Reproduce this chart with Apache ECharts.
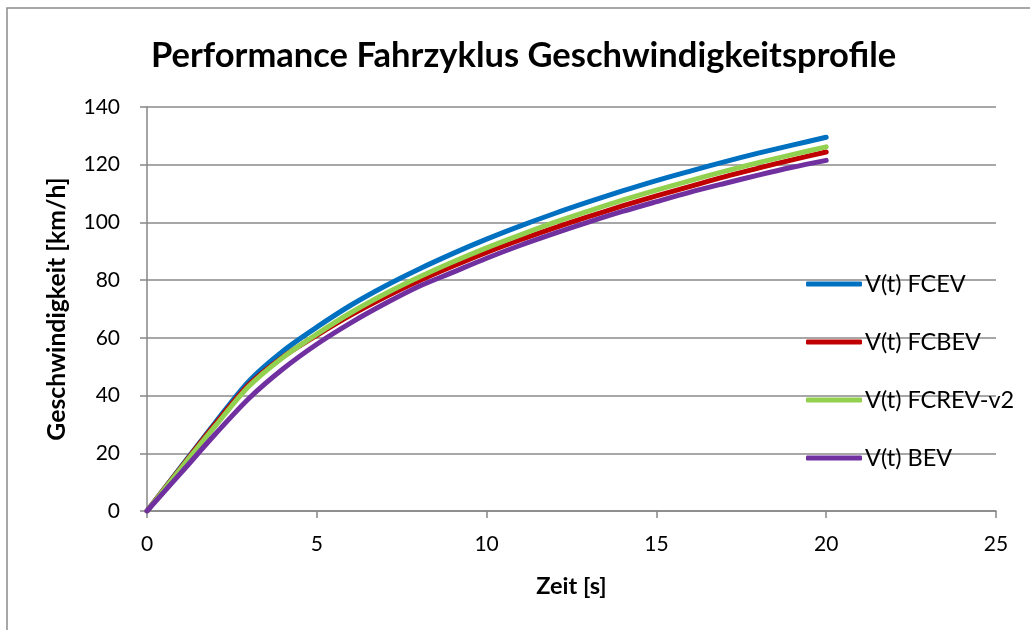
<!DOCTYPE html>
<html>
<head>
<meta charset="utf-8">
<script src="https://cdn.jsdelivr.net/npm/echarts@6/dist/echarts.min.js"></script>
<style>html,body{margin:0;padding:0;background:#fff;}#c{width:1030px;height:630px;}</style>
</head>
<body>
<div id="c"></div>
<script>
var titleText = 'Performance Fahrzyklus Geschwindigkeitsprofile';
var xName = 'Zeit [s]';
var yName = 'Geschwindigkeit [km/h]';
var seriesNames = ['V(t) FCEV', 'V(t) FCBEV', 'V(t) FCREV-v2', 'V(t) BEV'];
var time = [0,1,2,3,4,5,6,7,8,9,10,11,12,13,14,15,16,17,18,19,20];
var fcev = [0,15.3,30.5,45.0,55.4,63.7,71.3,77.9,83.8,89.2,94.2,98.8,103.1,107.1,110.9,114.5,117.8,121.0,124.0,126.8,129.5];
var fcbev = [0,15.1,30.0,43.8,53.4,60.9,67.9,74.1,79.7,84.8,89.6,94.0,98.1,102.0,105.7,109.2,112.5,115.8,118.8,121.7,124.4];
var fcrev = [0,14.8,29.3,43.2,53.2,61.3,68.7,75.2,81.0,86.3,91.2,95.7,100.0,103.9,107.7,111.2,114.5,117.7,120.7,123.5,126.2];
var bev = [0,13.2,26.5,39.0,49.2,57.8,65.2,71.8,77.8,82.7,87.6,92.1,96.2,100.1,103.8,107.2,110.5,113.5,116.4,119.1,121.5];
var colors = ['#0070C0', '#C00000', '#92D050', '#7030A0'];

function pairs(ys){ return time.map(function(t,i){ return [t, ys[i]]; }); }
var allData = [fcev, fcbev, fcrev, bev];
var FONT = 'Lato';
var chart = echarts.init(document.getElementById('c'));
chart.setOption({
  backgroundColor: '#fff',
  animation: false,
  textStyle: {fontFamily: FONT},
  title: {
    text: titleText, left: 151, top: 38, padding: 0,
    textStyle: {fontFamily: FONT, fontWeight: 'bold', fontSize: 34.5, color: '#000'}
  },
  graphic: [{
    type: 'rect', shape: {x: 7, y: 8, width: 1100, height: 700},
    style: {fill: 'none', stroke: '#8c8c8c', lineWidth: 1.5}, silent: true
  }],
  legend: {
    orient: 'vertical', left: 801, top: 267,
    itemWidth: 56, itemHeight: 5, itemGap: 34,
    icon: 'roundRect',
    textStyle: {fontFamily: FONT, fontSize: 23.5, color: '#000', padding: [0,0,0,-2]},
    data: seriesNames
  },
  grid: {left: 147, right: 34, top: 107, bottom: 119, containLabel: false},
  xAxis: {
    type: 'value', min: 0, max: 25, interval: 5,
    name: xName, nameLocation: 'middle', nameGap: 63,
    nameTextStyle: {fontFamily: FONT, fontWeight: 'bold', fontSize: 23.5, color: '#000'},
    axisLine: {lineStyle: {color: '#868686', width: 1.5}},
    axisTick: {show: true, length: 7, lineStyle: {color: '#868686', width: 1.5}},
    axisLabel: {fontFamily: FONT, fontSize: 21, color: '#000', margin: 23},
    splitLine: {show: false}
  },
  yAxis: {
    type: 'value', min: 0, max: 140, interval: 20,
    name: yName, nameLocation: 'middle', nameGap: 77, nameRotate: 90,
    nameTextStyle: {fontFamily: FONT, fontWeight: 'bold', fontSize: 24.8, color: '#000'},
    axisLine: {show: true, lineStyle: {color: '#868686', width: 1.5}},
    axisTick: {show: true, length: 7, lineStyle: {color: '#868686', width: 1.5}},
    axisLabel: {fontFamily: FONT, fontSize: 21, color: '#000', margin: 27, align: 'right'},
    splitLine: {show: true, lineStyle: {color: '#8a8a8a', width: 1.5}}
  },
  series: seriesNames.map(function(n, i){
    return {
      name: n, type: 'line', data: pairs(allData[i]),
      showSymbol: false, symbol: 'none', smooth: 0.3,
      lineStyle: {color: colors[i], width: 5, cap: 'round', join: 'round'},
      itemStyle: {color: colors[i]}
    };
  })
});
</script>
</body>
</html>
